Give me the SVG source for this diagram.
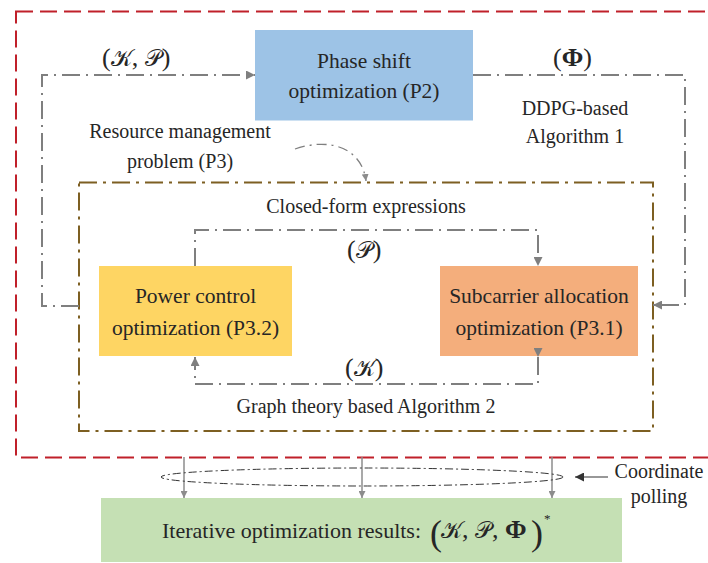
<svg xmlns="http://www.w3.org/2000/svg" width="708" height="563" viewBox="0 0 708 563">
  <style>
    text { font-family: "Liberation Serif", "Times New Roman", serif; fill: #262626; }
    .box { font-size: 21.5px; text-anchor: middle; }
    .lbl { font-size: 20px; text-anchor: middle; }
    .math { font-size: 26px; }
    .cal { font-family: "DejaVu Serif", "DejaVu Sans", serif; font-style: normal; font-size: 23px; }
    .phi { font-weight: bold; }
    .conn { fill: none; stroke: #7f7f7f; stroke-width: 2; stroke-dasharray: 18 6 2 6; }
    .drop { fill: none; stroke: #8c8c8c; stroke-width: 1.5; }
  </style>
  <defs>
    <marker id="arrow" viewBox="0 0 10 10" refX="10" refY="5" markerWidth="9" markerHeight="9" markerUnits="userSpaceOnUse" orient="auto">
      <path d="M0,0 L10,5 L0,10 z" fill="#7f7f7f"/>
    </marker>
    <marker id="arrow-small" viewBox="0 0 10 10" refX="10" refY="5" markerWidth="7" markerHeight="7" markerUnits="userSpaceOnUse" orient="auto">
      <path d="M0,0 L10,5 L0,10 z" fill="#8c8c8c"/>
    </marker>
    <marker id="arrow-dark" viewBox="0 0 10 10" refX="10" refY="5" markerWidth="9" markerHeight="9" markerUnits="userSpaceOnUse" orient="auto">
      <path d="M0,0 L10,5 L0,10 z" fill="#333"/>
    </marker>
  </defs>

  <!-- outer iteration loop frame -->
  <g id="loop-frame">
    <rect x="16" y="11.5" width="700" height="446" fill="none" stroke="#c0202a" stroke-width="2" stroke-dasharray="17 7"/>
  </g>

  <!-- resource management sub-problem frame -->
  <g id="resource-frame">
    <rect x="79" y="182.5" width="574" height="248.5" fill="none" stroke="#7d5f22" stroke-width="2" stroke-dasharray="18 6 3 6"/>
    <text class="lbl" x="180" y="138">Resource management</text>
    <text class="lbl" x="180" y="168">problem (P3)</text>
  </g>

  <g id="phase-shift">
    <rect x="255" y="30" width="218" height="90.5" fill="#9dc3e6"/>
    <text class="box" x="364" y="68">Phase shift</text>
    <text class="box" x="364" y="98">optimization (P2)</text>
  </g>

  <g id="power-control">
    <rect x="99" y="266" width="193" height="90" fill="#fed563"/>
    <text class="box" x="195.5" y="303">Power control</text>
    <text class="box" x="195.5" y="335">optimization (P3.2)</text>
  </g>

  <g id="subcarrier-allocation">
    <rect x="440" y="266" width="198" height="90" fill="#f4ae7c"/>
    <text class="box" x="539" y="303">Subcarrier allocation</text>
    <text class="box" x="539" y="335">optimization (P3.1)</text>
  </g>

  <g id="results">
    <rect x="101" y="498" width="521" height="64" fill="#c5e0b4"/>
    <text x="162" y="538" style="font-size:22px">Iterative optimization results:</text>
    <text x="430" y="545" style="font-size:36px">(</text>
    <text x="441" y="538" class="math"><tspan class="cal">𝒦</tspan>, <tspan class="cal">𝒫</tspan>, <tspan class="phi">Φ</tspan></text>
    <text x="531" y="545" style="font-size:36px">)</text>
    <text x="544" y="523" style="font-size:13px">*</text>
  </g>

  <g id="connectors">
    <!-- (K,P) feedback into phase shift optimization -->
    <path class="conn" d="M79,306 H42 V75 H255" marker-end="url(#arrow)"/>
    <text class="math" x="102" y="66">(<tspan class="cal">𝒦</tspan>, <tspan class="cal">𝒫</tspan>)</text>

    <!-- Phi handed to subcarrier allocation -->
    <path class="conn" d="M473,75 H685 V305 H653" marker-end="url(#arrow)"/>
    <text class="math" x="553" y="66">(<tspan class="phi">Φ</tspan>)</text>
    <text class="lbl" x="575" y="115">DDPG-based</text>
    <text class="lbl" x="575" y="143">Algorithm 1</text>

    <!-- problem (P3) pointer -->
    <path d="M295,149 C330,137 362,148 366,181" fill="none" stroke="#7f7f7f" stroke-width="1.3" stroke-dasharray="10 5 2 5" marker-end="url(#arrow-small)"/>

    <!-- closed-form expressions: P -->
    <path class="conn" d="M195,266 V230 H538 V266" marker-end="url(#arrow)"/>
    <text class="lbl" x="366" y="213">Closed-form expressions</text>
    <text class="math" x="347" y="258">(<tspan class="cal">𝒫</tspan>)</text>

    <!-- graph theory algorithm: K -->
    <path class="conn" d="M538,357 V384 H195 V357" marker-start="url(#arrow)" marker-end="url(#arrow)"/>
    <text class="math" x="345" y="376">(<tspan class="cal">𝒦</tspan>)</text>
    <text class="lbl" x="366" y="413">Graph theory based Algorithm 2</text>

    <!-- coordinate polling of results -->
    <path class="drop" d="M184,457 V498" marker-end="url(#arrow-small)"/>
    <path class="drop" d="M362,457 V498" marker-end="url(#arrow-small)"/>
    <path class="drop" d="M552,457 V498" marker-end="url(#arrow-small)"/>
    <ellipse cx="362" cy="477" rx="201" ry="9" fill="none" stroke="#333" stroke-width="1" stroke-dasharray="8 3 2 3"/>
    <path d="M608,477 H575" fill="none" stroke="#333" stroke-width="1.2" marker-end="url(#arrow-dark)"/>
    <text class="lbl" x="659" y="478">Coordinate</text>
    <text class="lbl" x="659" y="503">polling</text>
  </g>
</svg>
